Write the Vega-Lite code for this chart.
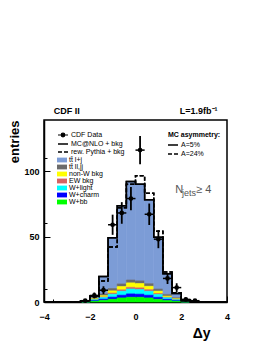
{
  "$schema": "https://vega.github.io/schema/vega-lite/v6.json",
  "width": 183,
  "height": 182,
  "autosize": "none",
  "padding": {"left": 44, "top": 120, "right": 39, "bottom": 42},
  "background": "white",
  "config": {
    "font": "Liberation Sans",
    "view": {"stroke": "#000", "strokeWidth": 1.5},
    "axis": {
      "grid": false,
      "domainColor": "#000",
      "domainWidth": 1.5,
      "tickColor": "#000",
      "tickWidth": 1,
      "labelFont": "Liberation Sans",
      "labelFontWeight": "bold",
      "labelFontSize": 9,
      "labelColor": "#000",
      "labelFlush": false,
      "labelOverlap": false,
      "titleFont": "Liberation Sans",
      "titleFontWeight": "bold",
      "titleColor": "#000"
    },
    "legend": {
      "labelFont": "Liberation Sans",
      "labelFontSize": 7,
      "labelColor": "#000",
      "titleFont": "Liberation Sans",
      "titleFontSize": 7,
      "titleColor": "#000",
      "symbolSize": 64,
      "padding": 0,
      "rowPadding": 0,
      "labelOffset": 3,
      "labelLimit": 200,
      "offset": 0
    }
  },
  "datasets": {
    "bkg": [
      {"lo": -2.4, "hi": -2.0, "tt̄ l+j": 0.45, "tt̄ ll,jj": 0.1, "non-W bkg": 0.1, "EW bkg": 0.05, "W+light": 0.1, "W+charm": 0.1, "W+bb": 0.1},
      {"lo": -2.0, "hi": -1.6, "tt̄ l+j": 1.35, "tt̄ ll,jj": 0.8, "non-W bkg": 0.5, "EW bkg": 0.25, "W+light": 0.6, "W+charm": 0.5, "W+bb": 0.6},
      {"lo": -1.6, "hi": -1.2, "tt̄ l+j": 13.4, "tt̄ ll,jj": 1.3, "non-W bkg": 0.9, "EW bkg": 0.5, "W+light": 1.2, "W+charm": 0.9, "W+bb": 1.3},
      {"lo": -1.2, "hi": -0.8, "tt̄ l+j": 38.7, "tt̄ ll,jj": 1.8, "non-W bkg": 1.7, "EW bkg": 0.9, "W+light": 2.2, "W+charm": 1.6, "W+bb": 2.1},
      {"lo": -0.8, "hi": -0.4, "tt̄ l+j": 59.7, "tt̄ ll,jj": 2.0, "non-W bkg": 2.5, "EW bkg": 1.1, "W+light": 3.0, "W+charm": 2.1, "W+bb": 3.1},
      {"lo": -0.4, "hi": 0.0, "tt̄ l+j": 75.2, "tt̄ ll,jj": 2.2, "non-W bkg": 3.4, "EW bkg": 1.3, "W+light": 3.7, "W+charm": 2.6, "W+bb": 3.6},
      {"lo": 0.0, "hi": 0.4, "tt̄ l+j": 73.9, "tt̄ ll,jj": 2.0, "non-W bkg": 3.3, "EW bkg": 1.3, "W+light": 3.5, "W+charm": 2.4, "W+bb": 3.6},
      {"lo": 0.4, "hi": 0.8, "tt̄ l+j": 64.0, "tt̄ ll,jj": 2.0, "non-W bkg": 2.6, "EW bkg": 1.2, "W+light": 3.0, "W+charm": 2.1, "W+bb": 3.1},
      {"lo": 0.8, "hi": 1.2, "tt̄ l+j": 39.6, "tt̄ ll,jj": 1.6, "non-W bkg": 1.8, "EW bkg": 0.8, "W+light": 2.1, "W+charm": 1.5, "W+bb": 2.1},
      {"lo": 1.2, "hi": 1.6, "tt̄ l+j": 15.7, "tt̄ ll,jj": 1.3, "non-W bkg": 0.8, "EW bkg": 0.5, "W+light": 1.1, "W+charm": 0.9, "W+bb": 1.2},
      {"lo": 1.6, "hi": 2.0, "tt̄ l+j": 3.25, "tt̄ ll,jj": 0.8, "non-W bkg": 0.5, "EW bkg": 0.25, "W+light": 0.6, "W+charm": 0.5, "W+bb": 0.6},
      {"lo": 2.0, "hi": 2.4, "tt̄ l+j": 0.45, "tt̄ ll,jj": 0.1, "non-W bkg": 0.1, "EW bkg": 0.05, "W+light": 0.1, "W+charm": 0.1, "W+bb": 0.1}
    ],
    "mcnlo": [
      {"x": -4.0, "v": 0}, {"x": -2.4, "v": 1.0}, {"x": -2.0, "v": 4.6}, {"x": -1.6, "v": 19.5},
      {"x": -1.2, "v": 49.0}, {"x": -0.8, "v": 73.5}, {"x": -0.4, "v": 92.0}, {"x": 0.0, "v": 90.0},
      {"x": 0.4, "v": 78.0}, {"x": 0.8, "v": 49.5}, {"x": 1.2, "v": 21.5}, {"x": 1.6, "v": 6.5},
      {"x": 2.0, "v": 1.0}, {"x": 2.4, "v": 0}, {"x": 4.0, "v": 0}
    ],
    "pythia": [
      {"x": -4.0, "v": 0}, {"x": -2.4, "v": 0.8}, {"x": -2.0, "v": 4.0}, {"x": -1.6, "v": 16.0},
      {"x": -1.2, "v": 42.0}, {"x": -0.8, "v": 72.0}, {"x": -0.4, "v": 90.0}, {"x": 0.0, "v": 96.5},
      {"x": 0.4, "v": 83.0}, {"x": 0.8, "v": 54.0}, {"x": 1.2, "v": 23.0}, {"x": 1.6, "v": 7.0},
      {"x": 2.0, "v": 1.5}, {"x": 2.4, "v": 0}, {"x": 4.0, "v": 0}
    ],
    "cdf": [
      {"x": -2.2, "x0": -2.4, "x1": -2.0, "n": 1, "lo": 0, "hi": 2},
      {"x": -1.8, "x0": -2.0, "x1": -1.6, "n": 5, "lo": 2.76, "hi": 7.24},
      {"x": -1.4, "x0": -1.6, "x1": -1.2, "n": 9, "lo": 6, "hi": 12},
      {"x": -1.0, "x0": -1.2, "x1": -0.8, "n": 59, "lo": 51.3, "hi": 66.7},
      {"x": -0.6, "x0": -0.8, "x1": -0.4, "n": 68, "lo": 59.75, "hi": 76.25},
      {"x": -0.2, "x0": -0.4, "x1": 0.0, "n": 79, "lo": 70.1, "hi": 87.9},
      {"x": 0.2, "x0": 0.0, "x1": 0.4, "n": 116, "lo": 105.2, "hi": 126.8},
      {"x": 0.6, "x0": 0.4, "x1": 0.8, "n": 67, "lo": 58.8, "hi": 75.2},
      {"x": 1.0, "x0": 0.8, "x1": 1.2, "n": 48, "lo": 41.1, "hi": 54.9},
      {"x": 1.4, "x0": 1.2, "x1": 1.6, "n": 18, "lo": 13.76, "hi": 22.24},
      {"x": 1.8, "x0": 1.6, "x1": 2.0, "n": 11, "lo": 7.68, "hi": 14.32},
      {"x": 2.2, "x0": 2.0, "x1": 2.4, "n": 2, "lo": 0.59, "hi": 3.41},
      {"x": 2.6, "x0": 2.4, "x1": 2.8, "n": 1, "lo": 0, "hi": 2}
    ]
  },
  "layer": [
    {
      "layer": [
        {
          "data": {"name": "bkg"},
          "transform": [
            {"fold": ["tt̄ l+j", "tt̄ ll,jj", "non-W bkg", "EW bkg", "W+light", "W+charm", "W+bb"], "as": ["comp", "n"]},
            {"calculate": "indexof(['W+bb','W+charm','W+light','EW bkg','non-W bkg','tt̄ ll,jj','tt̄ l+j'], datum.comp)", "as": "ord"},
            {"stack": "n", "groupby": ["lo"], "sort": [{"field": "ord", "order": "ascending"}], "as": ["y0", "y1"], "offset": "zero"}
          ],
          "mark": {"type": "bar", "strokeWidth": 0.6},
          "encoding": {
            "x": {
              "field": "lo", "type": "quantitative",
              "scale": {"domain": [-4, 4], "nice": false, "zero": false},
              "axis": {
                "orient": "bottom",
                "title": "Δy",
                "titleFontSize": 14,
                "titleX": 166,
                "titleY": 35,
                "titleAlign": "right",
                "titleBaseline": "alphabetic",
                "values": [-4, -2, 0, 2, 4],
                "tickSize": -6,
                "labelPadding": 16
              }
            },
            "x2": {"field": "hi"},
            "y": {
              "field": "y0", "type": "quantitative",
              "scale": {"domain": [0, 139], "nice": false},
              "axis": {
                "orient": "left",
                "title": "entries",
                "titleFontSize": 13,
                "titleAngle": 270,
                "titleX": -26,
                "titleY": 0,
                "titleAlign": "right",
                "titleBaseline": "alphabetic",
                "values": [0, 50, 100],
                "tickSize": -6,
                "labelPadding": 11
              }
            },
            "y2": {"field": "y1"},
            "color": {
              "field": "comp", "type": "nominal",
              "scale": {
                "domain": ["tt̄ l+j", "tt̄ ll,jj", "non-W bkg", "EW bkg", "W+light", "W+charm", "W+bb"],
                "range": ["#7c9cd6", "#6b6b6b", "#ffff00", "#d46464", "#00ffff", "#0000ff", "#00ff00"]
              },
              "legend": {
                "title": null,
                "orient": "none",
                "legendX": 14,
                "legendY": 36,
                "symbolType": "M-1.25,-0.6H1.25V0.6H-1.25Z",
                "symbolStrokeWidth": 0
              }
            },
            "stroke": {
              "field": "comp", "type": "nominal",
              "scale": {
                "domain": ["tt̄ l+j", "tt̄ ll,jj", "non-W bkg", "EW bkg", "W+light", "W+charm", "W+bb"],
                "range": ["#7c9cd6", "#6b6b6b", "#ffff00", "#d46464", "#00ffff", "#0000ff", "#00ff00"]
              },
              "legend": null
            }
          }
        },
        {
          "data": {"name": "mcnlo"},
          "mark": {"type": "line", "interpolate": "step-after", "color": "#000", "strokeWidth": 1.5},
          "encoding": {
            "x": {"field": "x", "type": "quantitative"},
            "y": {"field": "v", "type": "quantitative"},
            "strokeDash": {
              "datum": "MC@NLO + bkg",
              "scale": {"domain": ["MC@NLO + bkg", "rew. Pythia + bkg"], "range": [[1, 0], [4, 2]]},
              "legend": {
                "title": null,
                "orient": "none",
                "legendX": 14,
                "legendY": 19,
                "symbolType": "M-1.25,0H1.25",
                "symbolStrokeColor": "#000",
                "symbolStrokeWidth": 1.5
              }
            }
          }
        },
        {
          "data": {"name": "pythia"},
          "mark": {"type": "line", "interpolate": "step-after", "color": "#000", "strokeWidth": 1.5},
          "encoding": {
            "x": {"field": "x", "type": "quantitative"},
            "y": {"field": "v", "type": "quantitative"},
            "strokeDash": {"datum": "rew. Pythia + bkg"}
          }
        },
        {
          "data": {"name": "cdf"},
          "mark": {"type": "rule", "color": "#000", "strokeWidth": 1.8},
          "encoding": {
            "x": {"field": "x", "type": "quantitative"},
            "y": {"field": "lo", "type": "quantitative"},
            "y2": {"field": "hi"}
          }
        },
        {
          "data": {"name": "cdf"},
          "mark": {"type": "rule", "color": "#000", "strokeWidth": 1.5},
          "encoding": {
            "x": {"field": "x0", "type": "quantitative"},
            "x2": {"field": "x1"},
            "y": {"field": "n", "type": "quantitative"}
          }
        },
        {
          "data": {"name": "cdf"},
          "mark": {"type": "point", "filled": true, "size": 22, "opacity": 1, "shape": "circle"},
          "encoding": {
            "x": {"field": "x", "type": "quantitative"},
            "y": {"field": "n", "type": "quantitative"},
            "fill": {
              "datum": "CDF Data",
              "scale": {"range": ["#000"]},
              "legend": {
                "title": null,
                "orient": "none",
                "legendX": 14,
                "legendY": 10,
                "symbolType": "M-1.25,0H1.25M-0.45,0A0.45,0.45,0,1,1,0.45,0A0.45,0.45,0,1,1,-0.45,0Z",
                "symbolStrokeColor": "#000",
                "symbolStrokeWidth": 1.2,
                "symbolOpacity": 1
              }
            }
          }
        },
        {
          "data": {"values": [{}]},
          "mark": {"type": "text", "text": "CDF II", "align": "left", "baseline": "alphabetic", "font": "Liberation Sans", "fontSize": 9, "fontWeight": "bold", "color": "#000"},
          "encoding": {
            "x": {"datum": -3.57, "type": "quantitative"},
            "y": {"datum": 143.3, "type": "quantitative"}
          }
        },
        {
          "data": {"values": [{}]},
          "mark": {"type": "text", "text": "L=1.9fb⁻¹", "align": "right", "baseline": "alphabetic", "font": "Liberation Sans", "fontSize": 9, "fontWeight": "bold", "color": "#000"},
          "encoding": {
            "x": {"datum": 3.59, "type": "quantitative"},
            "y": {"datum": 143.3, "type": "quantitative"}
          }
        },
        {
          "data": {"values": [{}]},
          "mark": {"type": "text", "text": "N", "align": "left", "baseline": "alphabetic", "font": "Liberation Sans", "fontSize": 11, "color": "#555"},
          "encoding": {
            "x": {"datum": 1.74, "type": "quantitative"},
            "y": {"datum": 83.2, "type": "quantitative"}
          }
        },
        {
          "data": {"values": [{}]},
          "mark": {"type": "text", "text": "jets", "align": "left", "baseline": "alphabetic", "font": "Liberation Sans", "fontSize": 9, "color": "#555"},
          "encoding": {
            "x": {"datum": 2.03, "type": "quantitative"},
            "y": {"datum": 80.7, "type": "quantitative"}
          }
        },
        {
          "data": {"values": [{}]},
          "mark": {"type": "text", "text": "≥ 4", "align": "left", "baseline": "alphabetic", "font": "Liberation Sans", "fontSize": 11, "color": "#555"},
          "encoding": {
            "x": {"datum": 2.65, "type": "quantitative"},
            "y": {"datum": 83.2, "type": "quantitative"}
          }
        }
      ]
    },
    {
      "layer": [
        {
          "data": {"name": "mcnlo"},
          "mark": {"type": "line", "interpolate": "step-after", "color": "#000", "strokeWidth": 1.5},
          "encoding": {
            "x": {
              "field": "x", "type": "quantitative",
              "axis": {
                "orient": "bottom",
                "title": null,
                "labels": false,
                "domain": false,
                "values": [-3.6, -3.2, -2.8, -2.4, -1.6, -1.2, -0.8, -0.4, 0.4, 0.8, 1.2, 1.6, 2.4, 2.8, 3.2, 3.6],
                "tickSize": -3
              }
            },
            "y": {
              "field": "v", "type": "quantitative",
              "axis": {
                "orient": "left",
                "title": null,
                "labels": false,
                "domain": false,
                "values": [10, 20, 30, 40, 60, 70, 80, 90, 110, 120, 130],
                "tickSize": -3
              }
            },
            "strokeDash": {
              "datum": "A=5%",
              "scale": {"domain": ["A=5%", "A=24%"], "range": [[1, 0], [4, 2]]},
              "legend": {
                "title": "MC asymmetry:",
                "titleFontWeight": "bold",
                "titlePadding": 2,
                "orient": "none",
                "legendX": 124,
                "legendY": 11,
                "rowPadding": 1,
                "symbolType": "M-1.25,0H1.25",
                "symbolStrokeColor": "#000",
                "symbolStrokeWidth": 1.5
              }
            }
          }
        },
        {
          "data": {"name": "pythia"},
          "mark": {"type": "line", "interpolate": "step-after", "color": "#000", "strokeWidth": 1.5},
          "encoding": {
            "x": {"field": "x", "type": "quantitative"},
            "y": {"field": "v", "type": "quantitative"},
            "strokeDash": {"datum": "A=24%"}
          }
        }
      ]
    }
  ],
  "resolve": {
    "scale": {"strokeDash": "independent"},
    "legend": {"strokeDash": "independent"},
    "axis": {"x": "independent", "y": "independent"}
  }
}
